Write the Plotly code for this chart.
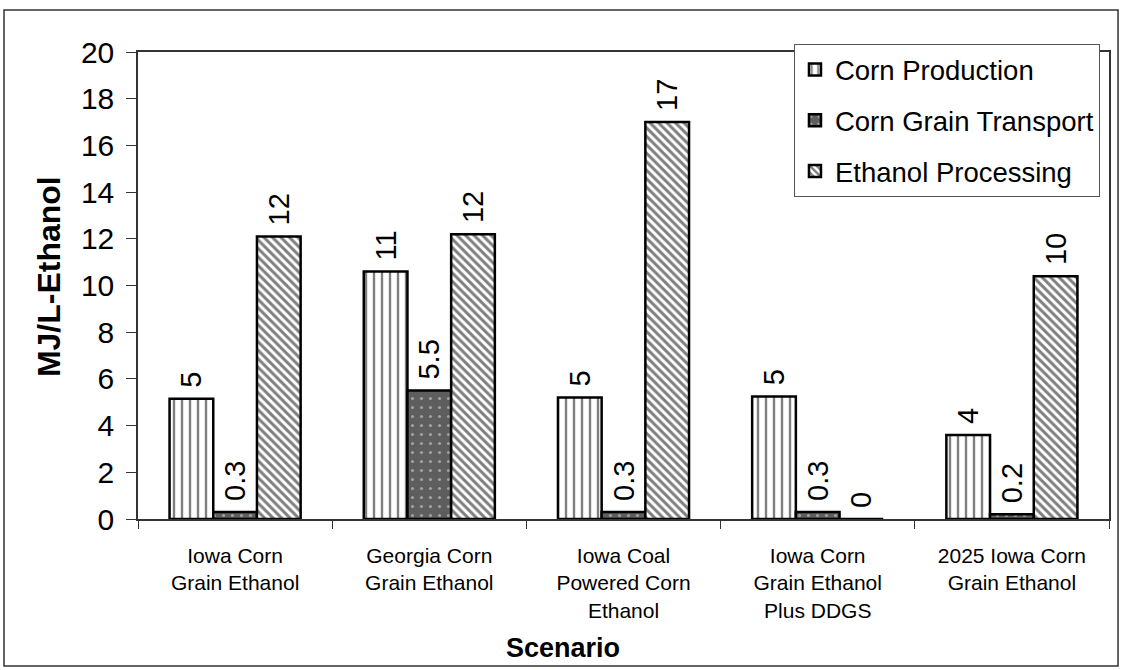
import plotly.graph_objects as go

# Energy use by life-cycle stage for each corn-ethanol scenario (MJ per litre of ethanol)
scenarios = [
    "Iowa Corn<br>Grain Ethanol",
    "Georgia Corn<br>Grain Ethanol",
    "Iowa Coal<br>Powered Corn<br>Ethanol",
    "Iowa Corn<br>Grain Ethanol<br>Plus DDGS",
    "2025 Iowa Corn<br>Grain Ethanol",
]
corn_production = [5.15, 10.6, 5.2, 5.25, 3.6]
corn_transport = [0.3, 5.5, 0.3, 0.3, 0.2]
ethanol_processing = [12.1, 12.2, 17.0, 0.0, 10.4]

FONT = "Liberation Sans, Arial, sans-serif"
NBSP = "\u00a0"

series = [
    dict(name="Corn Production", y=corn_production, fmt=".0f",
         pattern=dict(shape="|", fgcolor="black", bgcolor="white", size=8, solidity=0.3)),
    dict(name="Corn Grain Transport", y=corn_transport, fmt=".1f",
         pattern=dict(shape=".", fgcolor="#e0e0e0", bgcolor="#5e5e5e", size=9, solidity=0.1)),
    dict(name="Ethanol Processing", y=ethanol_processing, fmt=".0f",
         pattern=dict(shape="\\", fgcolor="black", bgcolor="white", size=6, solidity=0.5)),
]

fig = go.Figure()
for i, s in enumerate(series):
    fig.add_trace(go.Bar(
        x=scenarios,
        y=s["y"],
        name=s["name"],
        legendgroup=f"g{i}",
        marker=dict(color="white", line=dict(color="black", width=2.5), pattern=s["pattern"]),
        texttemplate=NBSP + "%{y:" + s["fmt"] + "}",
        textposition="outside",
        textangle=-90,
        constraintext="none",
        cliponaxis=False,
        textfont=dict(family=FONT, size=29, color="black"),
        hoverinfo="skip",
    ))

fig.update_layout(
    width=1122,
    height=670,
    margin=dict(l=138, r=13, t=52, b=151),
    paper_bgcolor="white",
    plot_bgcolor="white",
    font=dict(family=FONT, color="black"),
    barmode="group",
    bargap=0.325,
    bargroupgap=0,
    showlegend=True,
    legend=dict(
        x=0.9907, xanchor="right",
        y=1.017, yanchor="top",
        bgcolor="white",
        bordercolor="#555555",
        borderwidth=1,
        font=dict(family=FONT, size=27.5, color="black"),
        traceorder="grouped",
        tracegroupgap=12,
    ),
    xaxis=dict(
        showline=True, linecolor="#333333", linewidth=1.5, mirror=True,
        ticks="outside", ticklen=8, tickcolor="#333333", tickson="boundaries",
        tickfont=dict(family=FONT, size=21, color="black"),
        ticklabelstandoff=17,
        showgrid=False,
    ),
    yaxis=dict(
        range=[0, 20], dtick=2, tick0=0,
        showline=True, linecolor="#333333", linewidth=1.5, mirror=True,
        ticks="outside", ticklen=10, tickcolor="#333333",
        tickfont=dict(family=FONT, size=30, color="black"),
        ticklabelstandoff=6,
        showgrid=False, zeroline=False,
    ),
    annotations=[
        dict(text="<b>MJ/L-Ethanol</b>", xref="paper", yref="paper",
             x=-0.0917, y=0.52, textangle=-90, showarrow=False,
             xanchor="center", yanchor="middle",
             font=dict(family=FONT, size=32, color="black")),
        dict(text="<b>Scenario</b>", xref="paper", yref="paper",
             x=0.4377, y=-0.276, showarrow=False,
             xanchor="center", yanchor="middle",
             font=dict(family=FONT, size=27, color="black")),
    ],
    shapes=[
        dict(type="rect", xref="paper", yref="paper",
             x0=-0.138, x1=1.0093, y0=-0.3148, y1=1.0899,
             line=dict(color="#333333", width=1.5), fillcolor="rgba(0,0,0,0)"),
    ],
)

fig.write_html("out.html")
